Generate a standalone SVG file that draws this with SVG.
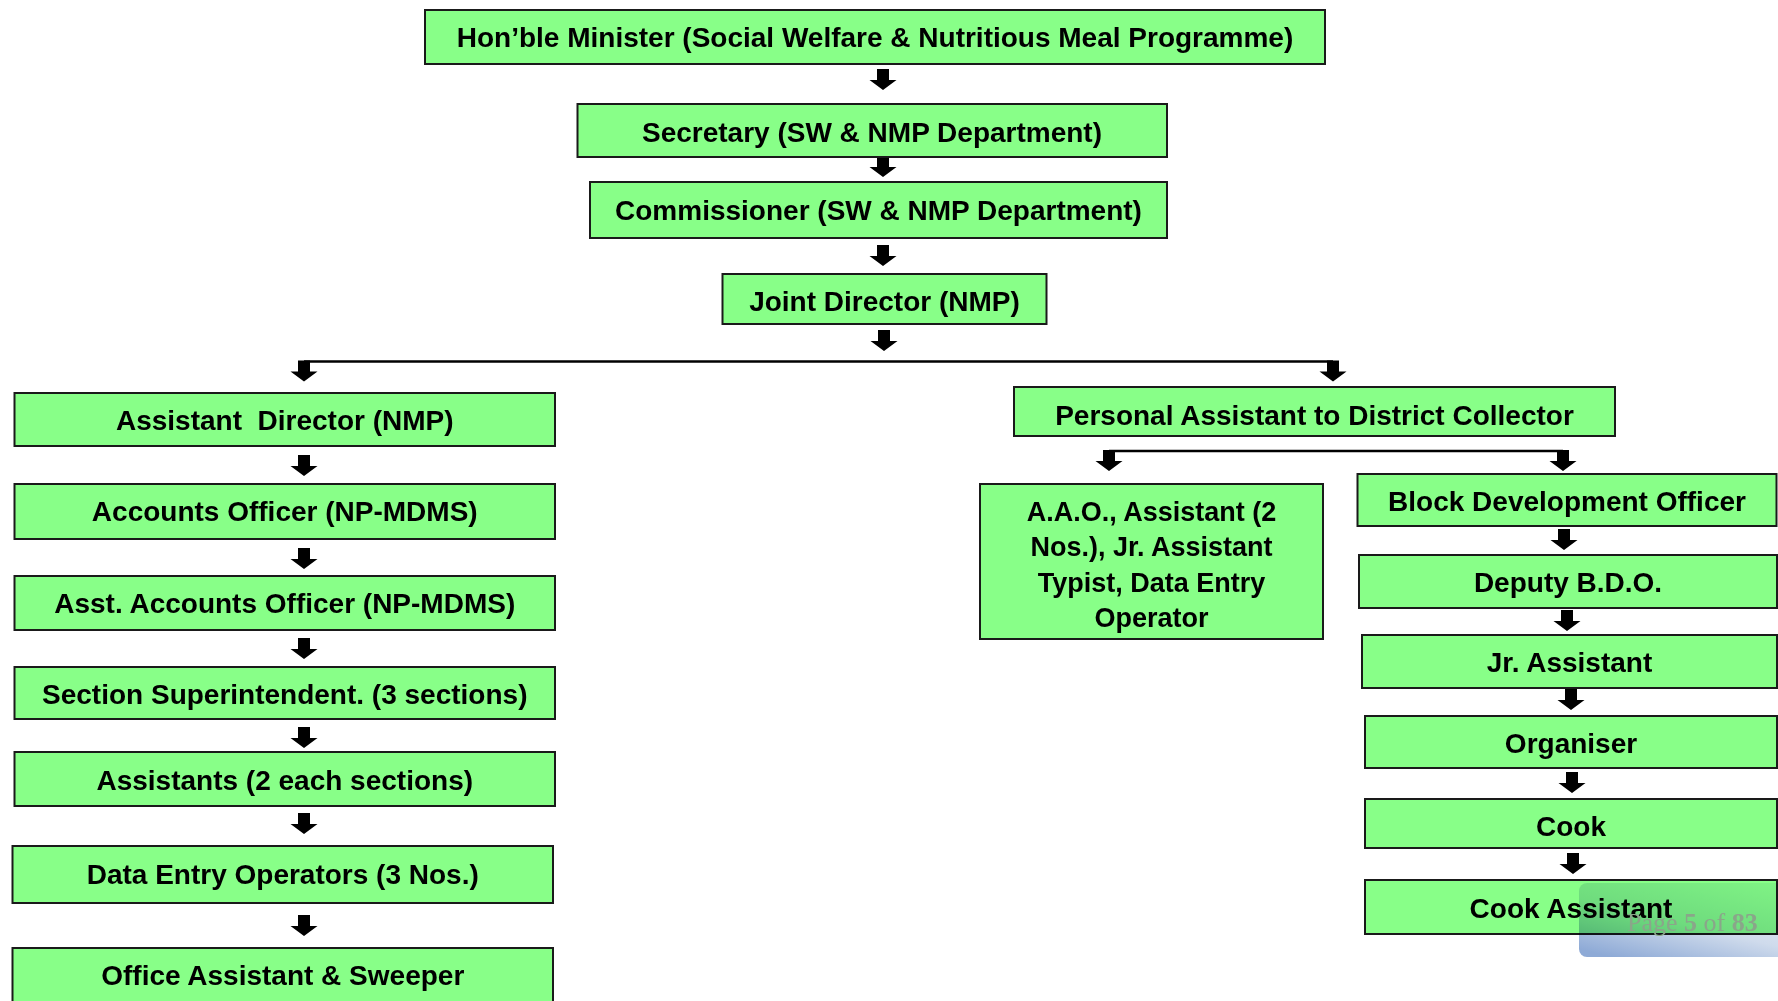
<svg xmlns="http://www.w3.org/2000/svg" xmlns:xlink="http://www.w3.org/1999/xlink" width="1778" height="1001" viewBox="0 0 1778 1001">
<style>
.box{fill:#88ff88;stroke:#1a1a1a;stroke-width:2}
.lbl{font-family:"Liberation Sans",Arial,Helvetica,sans-serif;font-weight:bold;font-size:28px;fill:#000;text-anchor:middle}
.sm{font-size:27px}
.ln{fill:none;stroke:#000;stroke-width:2.5}
.arr{fill:#000}
.pg{font-family:"Liberation Serif","Times New Roman",serif;font-size:26px;fill:#8aa68a}
</style>
<defs>
<path id="arrow" class="arr" d="M-6,0 H6 V11 H13.5 L0,21 L-13.5,11 H-6 Z"/>
<linearGradient id="pgGrad" x1="0.15" y1="1" x2="0.85" y2="0">
<stop offset="0" stop-color="#8eaad6"/>
<stop offset="0.45" stop-color="#cfdbec"/>
<stop offset="1" stop-color="#eef2f8"/>
</linearGradient>
</defs>
<rect x="0" y="0" width="1778" height="1001" fill="#ffffff"/>

<g id="connectors">
<use xlink:href="#arrow" x="883" y="69"/>
<use xlink:href="#arrow" x="883" y="156"/>
<use xlink:href="#arrow" x="883" y="245"/>
<use xlink:href="#arrow" x="884" y="330"/>
<path class="ln" d="M304,361.5 H1333"/>
<use xlink:href="#arrow" x="304" y="360.5"/>
<use xlink:href="#arrow" x="1333" y="360.5"/>
<use xlink:href="#arrow" x="304" y="455"/>
<use xlink:href="#arrow" x="304" y="548"/>
<use xlink:href="#arrow" x="304" y="638"/>
<use xlink:href="#arrow" x="304" y="727"/>
<use xlink:href="#arrow" x="304" y="813"/>
<use xlink:href="#arrow" x="304" y="915"/>
<path class="ln" d="M1109,451 H1563"/>
<use xlink:href="#arrow" x="1109" y="450"/>
<use xlink:href="#arrow" x="1563" y="450"/>
<use xlink:href="#arrow" x="1564" y="529"/>
<use xlink:href="#arrow" x="1567" y="610"/>
<use xlink:href="#arrow" x="1571" y="689"/>
<use xlink:href="#arrow" x="1572" y="772"/>
<use xlink:href="#arrow" x="1573" y="853"/>
</g>

<g id="minister"><rect class="box" x="425" y="10" width="900" height="54"/><text class="lbl" x="875" y="47">Hon’ble Minister (Social Welfare &amp; Nutritious Meal Programme)</text></g>
<g id="secretary"><rect class="box" x="577.5" y="104" width="589.5" height="53"/><text class="lbl" x="872" y="142">Secretary (SW &amp; NMP Department)</text></g>
<g id="commissioner"><rect class="box" x="590" y="182" width="577" height="56"/><text class="lbl" x="878.5" y="219.5">Commissioner (SW &amp; NMP Department)</text></g>
<g id="joint-director"><rect class="box" x="722.5" y="274" width="324" height="50"/><text class="lbl" x="884.5" y="311">Joint Director (NMP)</text></g>

<g id="assistant-director"><rect class="box" x="14.5" y="393" width="540.5" height="53"/><text class="lbl" x="284.75" y="429.5" xml:space="preserve">Assistant  Director (NMP)</text></g>
<g id="accounts-officer"><rect class="box" x="14.5" y="484" width="540.5" height="55"/><text class="lbl" x="284.75" y="521">Accounts Officer (NP-MDMS)</text></g>
<g id="asst-accounts-officer"><rect class="box" x="14.5" y="576" width="540.5" height="54"/><text class="lbl" x="284.75" y="612.5">Asst. Accounts Officer (NP-MDMS)</text></g>
<g id="section-superintendent"><rect class="box" x="14.5" y="667" width="540.5" height="52"/><text class="lbl" x="284.75" y="704">Section Superintendent. (3 sections)</text></g>
<g id="assistants"><rect class="box" x="14.5" y="752" width="540.5" height="54"/><text class="lbl" x="284.75" y="790">Assistants (2 each sections)</text></g>
<g id="data-entry-operators"><rect class="box" x="12.5" y="846" width="540.5" height="57"/><text class="lbl" x="282.75" y="884">Data Entry Operators (3 Nos.)</text></g>
<g id="office-assistant"><rect class="box" x="12.5" y="948" width="540.5" height="62"/><text class="lbl" x="282.75" y="985">Office Assistant &amp; Sweeper</text></g>

<g id="pa-collector"><rect class="box" x="1014" y="387" width="601" height="49"/><text class="lbl" x="1314.5" y="424.5">Personal Assistant to District Collector</text></g>
<g id="aao-group"><rect class="box" x="980" y="484" width="343" height="155"/>
<text class="lbl sm" x="1151.5" y="520.7">A.A.O., Assistant (2</text>
<text class="lbl sm" x="1151.5" y="556.2">Nos.), Jr. Assistant</text>
<text class="lbl sm" x="1151.5" y="591.7">Typist, Data Entry</text>
<text class="lbl sm" x="1151.5" y="627.2">Operator</text></g>
<g id="bdo"><rect class="box" x="1357.5" y="474" width="419" height="52"/><text class="lbl" x="1567" y="510.5">Block Development Officer</text></g>
<g id="deputy-bdo"><rect class="box" x="1359" y="555" width="418" height="53"/><text class="lbl" x="1568" y="591.5">Deputy B.D.O.</text></g>
<g id="jr-assistant"><rect class="box" x="1362" y="635" width="415" height="53"/><text class="lbl" x="1569.5" y="671.5">Jr. Assistant</text></g>
<g id="organiser"><rect class="box" x="1365" y="716" width="412" height="52"/><text class="lbl" x="1571" y="753">Organiser</text></g>
<g id="cook"><rect class="box" x="1365" y="799" width="412" height="49"/><text class="lbl" x="1571" y="836">Cook</text></g>
<g id="cook-assistant"><rect class="box" x="1365" y="880" width="412" height="54"/><text class="lbl" x="1571" y="917.5">Cook Assistant</text></g>

<g id="page-indicator">
<rect x="1579" y="883" width="220" height="74" rx="8" ry="8" fill="url(#pgGrad)" style="mix-blend-mode:multiply"/>
<text class="pg" x="1627" y="931">Page <tspan font-weight="bold">5</tspan> of <tspan font-weight="bold">83</tspan></text>
</g>
</svg>
